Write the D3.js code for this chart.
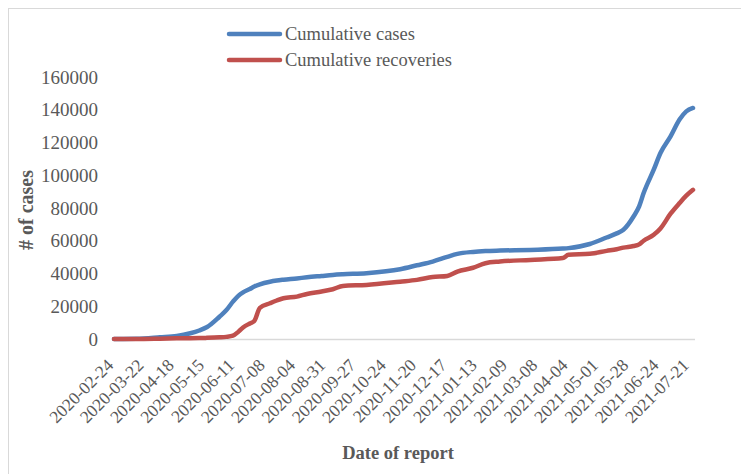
<!DOCTYPE html>
<html><head><meta charset="utf-8">
<script src="https://cdn.jsdelivr.net/npm/d3@7"></script>
<style>html,body{margin:0;padding:0;background:#fff;}svg{display:block;}</style>
</head><body>
<svg id="chart" width="741" height="474"></svg>
<script>
const dates = ["2020-02-24","2020-03-15","2020-04-05","2020-04-20","2020-05-02","2020-05-10","2020-05-17","2020-05-28","2020-06-03","2020-06-09","2020-06-14","2020-06-18","2020-06-24","2020-06-28","2020-07-03","2020-07-12","2020-07-18","2020-07-24","2020-08-05","2020-08-14","2020-08-27","2020-09-06","2020-09-15","2020-10-06","2020-11-05","2020-11-20","2020-12-04","2020-12-17","2020-12-26","2021-01-09","2021-01-20","2021-02-02","2021-03-01","2021-03-30","2021-04-04","2021-04-23","2021-05-08","2021-05-17","2021-05-23","2021-06-01","2021-06-06","2021-06-10","2021-06-19","2021-06-25","2021-07-04","2021-07-12","2021-07-18","2021-07-24"];
const cumulativeCases = [0,100,1000,1800,3500,5200,7300,13600,17500,22800,26500,28500,30500,32000,33400,35000,35700,36200,37000,37700,38500,39100,39500,40200,42600,45000,47300,50200,52000,53200,53700,54000,54400,55200,55500,58000,62000,64500,66700,74800,81000,89100,103400,113600,123700,134000,139000,141100];
const cumulativeRecoveries = [0,0,200,400,500,600,700,1000,1300,2000,4500,7000,9500,11000,19000,21800,23500,24900,25900,27500,29000,30400,32400,33000,35000,36100,37800,38500,41200,43500,46300,47300,48300,49400,51400,52000,53800,54800,55800,56800,57800,60000,63600,67500,76500,83000,87500,91100];
const tickLabels = ["2020-02-24","2020-03-22","2020-04-18","2020-05-15","2020-06-11","2020-07-08","2020-08-04","2020-08-31","2020-09-27","2020-10-24","2020-11-20","2020-12-17","2021-01-13","2021-02-09","2021-03-08","2021-04-04","2021-05-01","2021-05-28","2021-06-24","2021-07-21"];
const yTicks = [0,20000,40000,60000,80000,100000,120000,140000,160000];
const seriesNames = ["Cumulative cases","Cumulative recoveries"];
const seriesColors = ["#4F81BD","#C0504D"];

const parse = d3.utcParse("%Y-%m-%d");
const svg = d3.select("#chart");
const font = "'Liberation Serif','Times New Roman',serif";
const grey = "#595959";

// outer border
svg.append("rect").attr("x",8.5).attr("y",8.5).attr("width",760).attr("height",480)
  .attr("fill","none").attr("stroke","#d9d9d9").attr("stroke-width",1);

const x = d3.scaleUtc().domain([parse("2020-02-24"), parse("2021-07-24")]).range([114, 693]);
const y = d3.scaleLinear().domain([0,160000]).range([339, 77]);

// x axis line
svg.append("line").attr("x1",113).attr("x2",695).attr("y1",y(0)+0.5).attr("y2",y(0)+0.5)
  .attr("stroke","#d9d9d9").attr("stroke-width",1.5);

// y tick labels
svg.append("g").selectAll("text").data(yTicks).join("text")
  .attr("x",98).attr("y",d=>y(d)).attr("dy","0.35em").attr("text-anchor","end")
  .attr("font-family",font).attr("font-size",19).attr("fill",grey).text(d=>d);

// x tick labels
svg.append("g").selectAll("text").data(tickLabels).join("text")
  .attr("transform",d=>`translate(${x(parse(d))-4},${362}) rotate(-45)`)
  .attr("text-anchor","end").attr("dy","0.35em")
  .attr("font-family",font).attr("font-size",17.5).attr("fill",grey).text(d=>d);

// lines
const seriesData = [cumulativeCases, cumulativeRecoveries];
const line = d3.line().x((d,i)=>x(parse(dates[i]))).y(d=>y(d)).curve(d3.curveMonotoneX);
seriesData.forEach((vals,k)=>{
  svg.append("path").attr("d",line(vals)).attr("fill","none")
    .attr("stroke",seriesColors[k]).attr("stroke-width",4.5)
    .attr("stroke-linecap","round").attr("stroke-linejoin","round");
});

// legend
seriesNames.forEach((n,k)=>{
  const ly = 34 + k*26;
  svg.append("line").attr("x1",229).attr("x2",280).attr("y1",ly).attr("y2",ly)
    .attr("stroke",seriesColors[k]).attr("stroke-width",4.5).attr("stroke-linecap","round");
  svg.append("text").attr("x",285).attr("y",ly).attr("dy","0.35em")
    .attr("font-family",font).attr("font-size",18.5).attr("fill",grey).text(n);
});

// axis titles
svg.append("text").attr("x",398).attr("y",459).attr("text-anchor","middle")
  .attr("font-family",font).attr("font-size",18.5).attr("font-weight","bold").attr("fill",grey)
  .text("Date of report");
svg.append("text").attr("transform","translate(33,210) rotate(-90)").attr("text-anchor","middle")
  .attr("font-family",font).attr("font-size",20).attr("font-weight","bold").attr("fill",grey)
  .text("# of cases");
</script>
</body></html>
